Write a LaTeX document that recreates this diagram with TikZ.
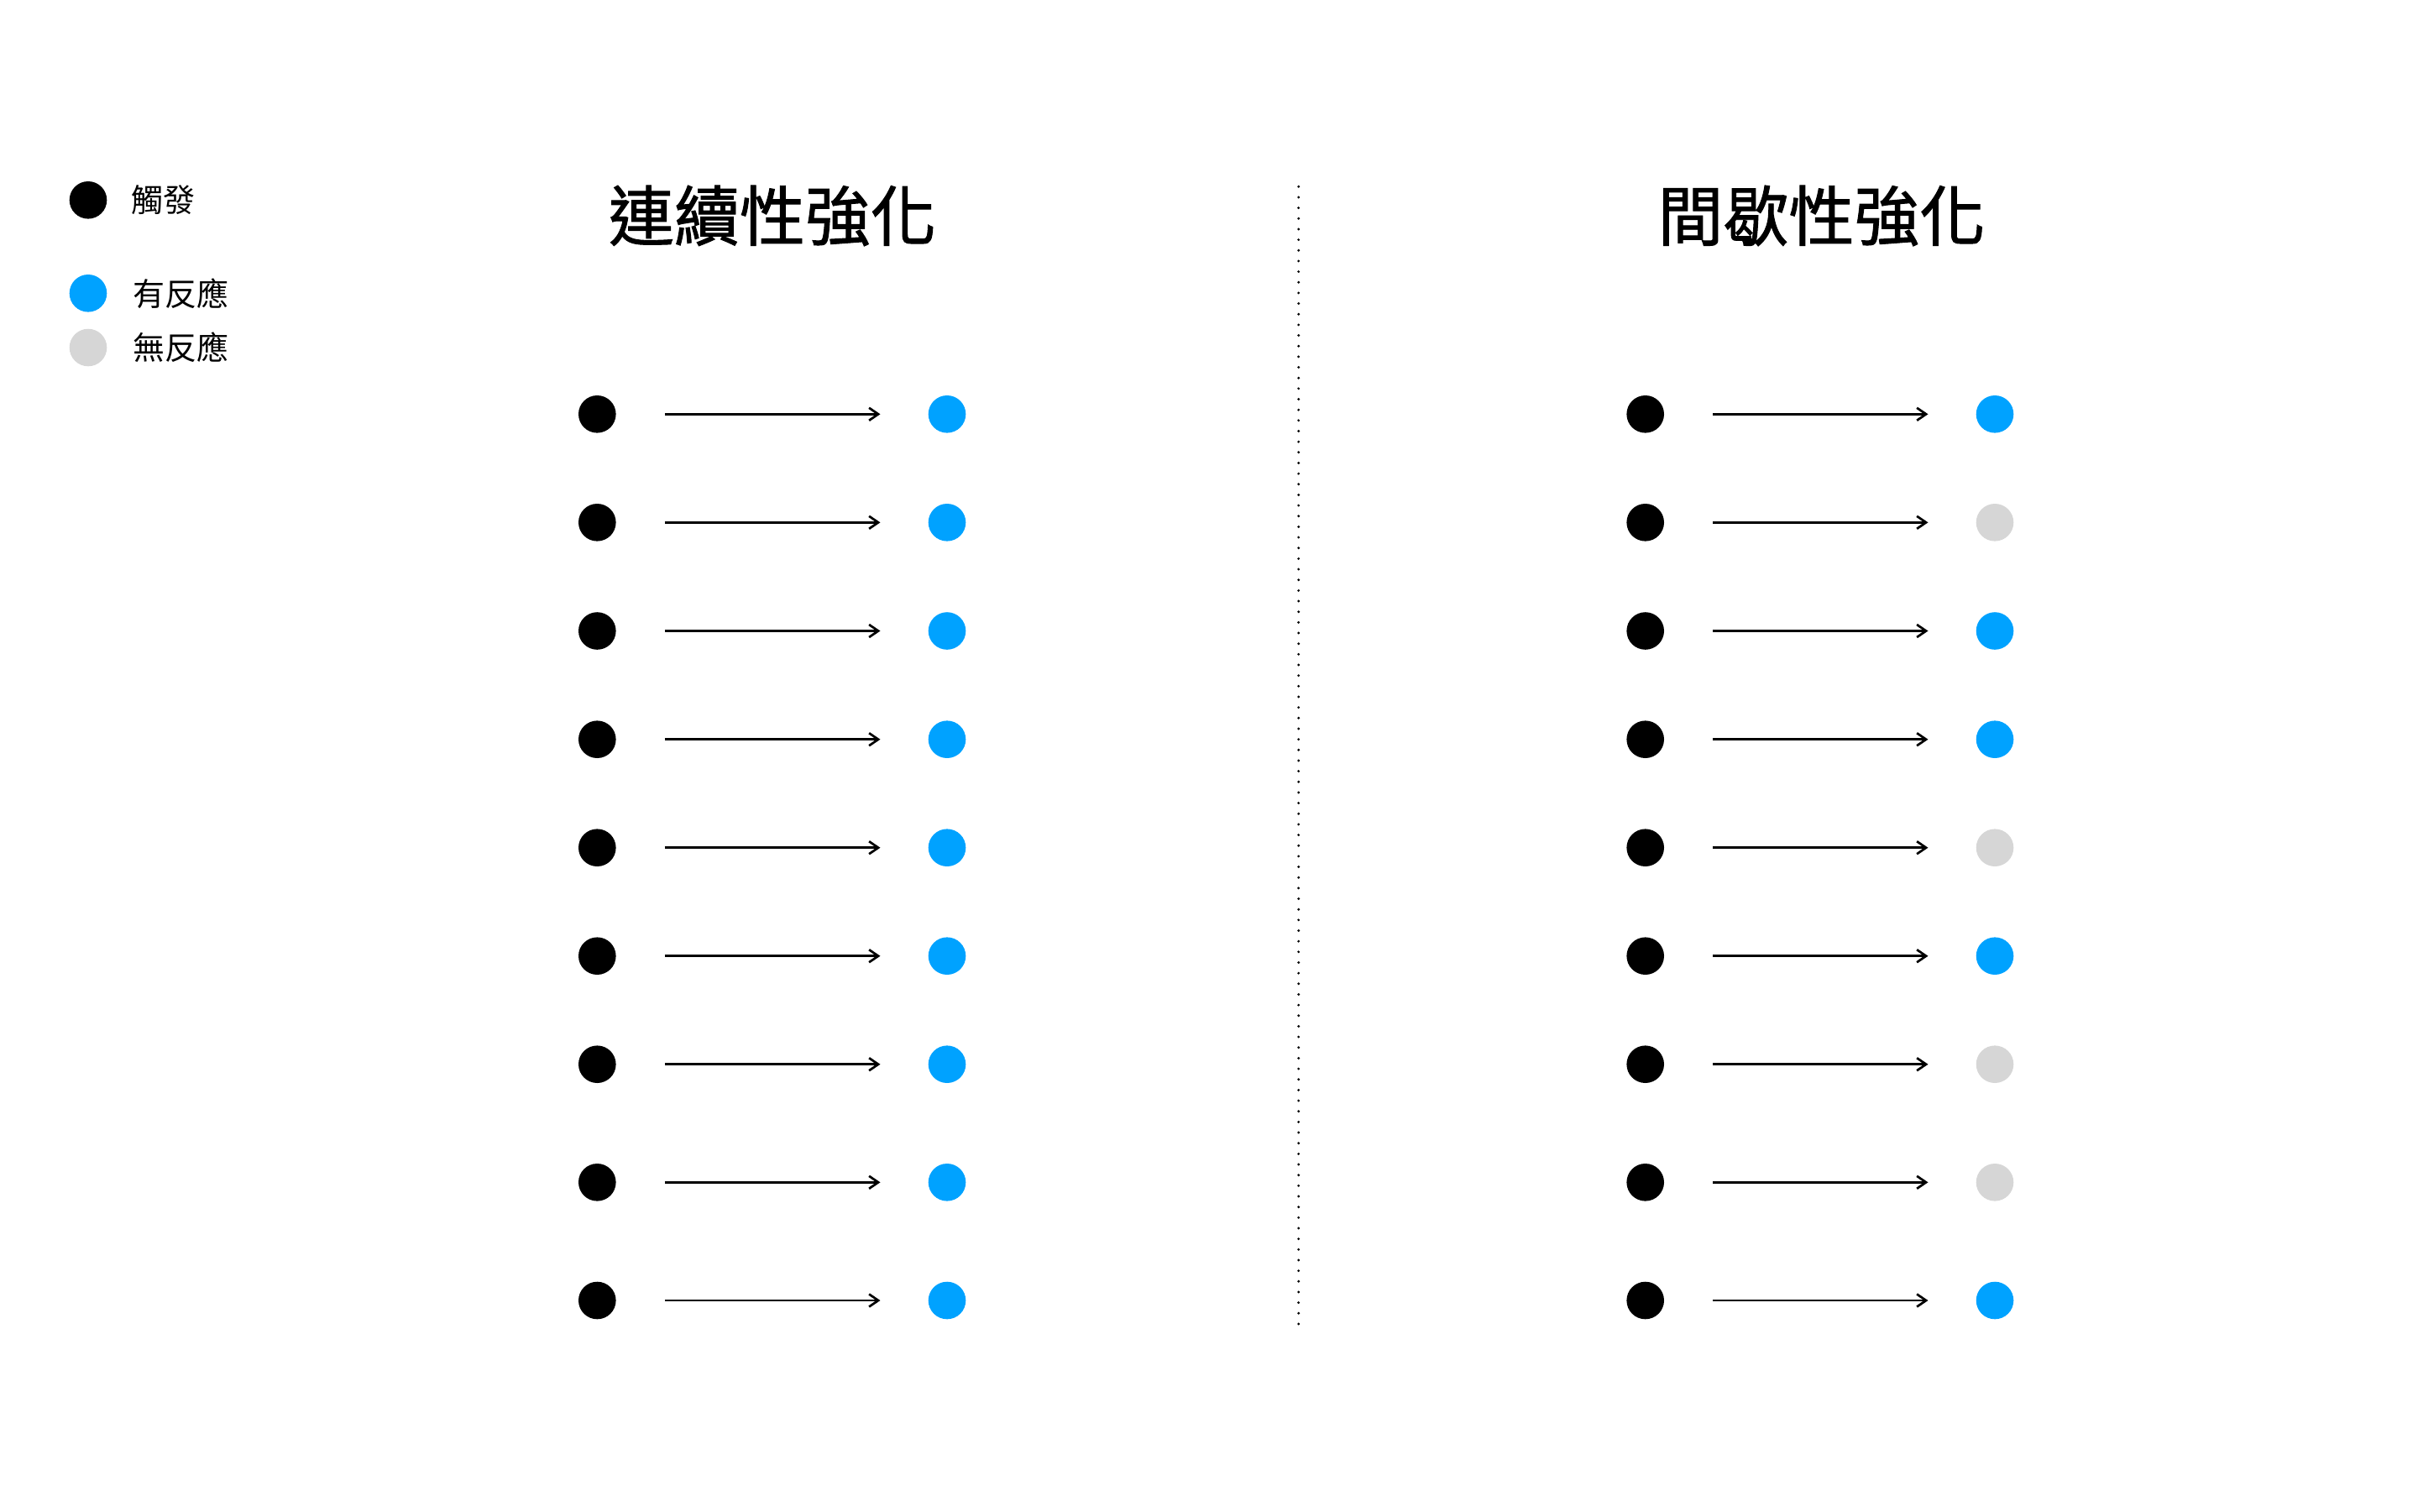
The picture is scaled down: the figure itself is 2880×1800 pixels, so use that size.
\documentclass[tikz,border=0pt]{standalone}
\usepackage{fontspec}
\setmainfont{Noto Sans CJK TC}
\newfontfamily\titlefont[FakeBold=1.2]{Noto Sans CJK TC}
\usetikzlibrary{arrows.meta}
\definecolor{respblue}{RGB}{0,162,255}
\definecolor{noresp}{RGB}{214,214,214}
\tikzset{
  dot/.style={circle, inner sep=0pt, minimum size=44.6pt, fill=#1},
  stimdot/.style={dot=black},
  yesdot/.style={dot=respblue},
  nodot/.style={dot=noresp},
  link/.style={line width=2.7pt, -{Straight Barb[length=11pt,width=15pt,line width=2.7pt]}, shorten <=58pt, shorten >=57pt},
  title/.style={inner sep=0pt, font=\titlefont\fontsize{78}{94}\selectfont},
  legtext/.style={inner sep=0pt, anchor=west, font=\fontsize{38}{46}\selectfont},
  divider/.style={line width=3.2pt, line cap=round, dash pattern=on 0pt off 12.66pt}
}
\begin{document}
\begin{tikzpicture}[x=1pt, y=-1pt]
\useasboundingbox (0,0) rectangle (2880,1800);
% legend
\node[stimdot] (lg1) at (105,238.3) {};
\node[legtext] (lt1) at (156,238.3) {觸發};
\node[yesdot] (lg2) at (105,349.3) {};
\node[legtext] (lt2) at (158,349.3) {有反應};
\node[nodot] (lg3) at (105,414) {};
\node[legtext] (lt3) at (158,414) {無反應};
% titles
\node[title] (t1) at (920,257) {連續性強化};
\node[title] (t2) at (2169.5,257) {間歇性強化};
% divider
\coordinate (dtop) at (1546.7,222.3);
\coordinate (dbot) at (1546.7,1577);
\draw[divider] (dtop) -- (dbot);
% rows
\foreach \i/\y/\st in {1/493.3/yesdot, 2/622.3/nodot, 3/751.5/yesdot, 4/880.7/yesdot, 5/1009.7/nodot, 6/1138.7/yesdot, 7/1267.7/nodot, 8/1408.3/nodot, 9/1549/yesdot}{
  \node[stimdot] (ls\i) at (711.3,\y) {};
  \node[yesdot] (lr\i) at (1128,\y) {};
  \draw[link] (ls\i) -- (lr\i);
  \node[stimdot] (rs\i) at (1959.7,\y) {};
  \node[\st] (rr\i) at (2376,\y) {};
  \draw[link] (rs\i) -- (rr\i);
}
\end{tikzpicture}
\end{document}
